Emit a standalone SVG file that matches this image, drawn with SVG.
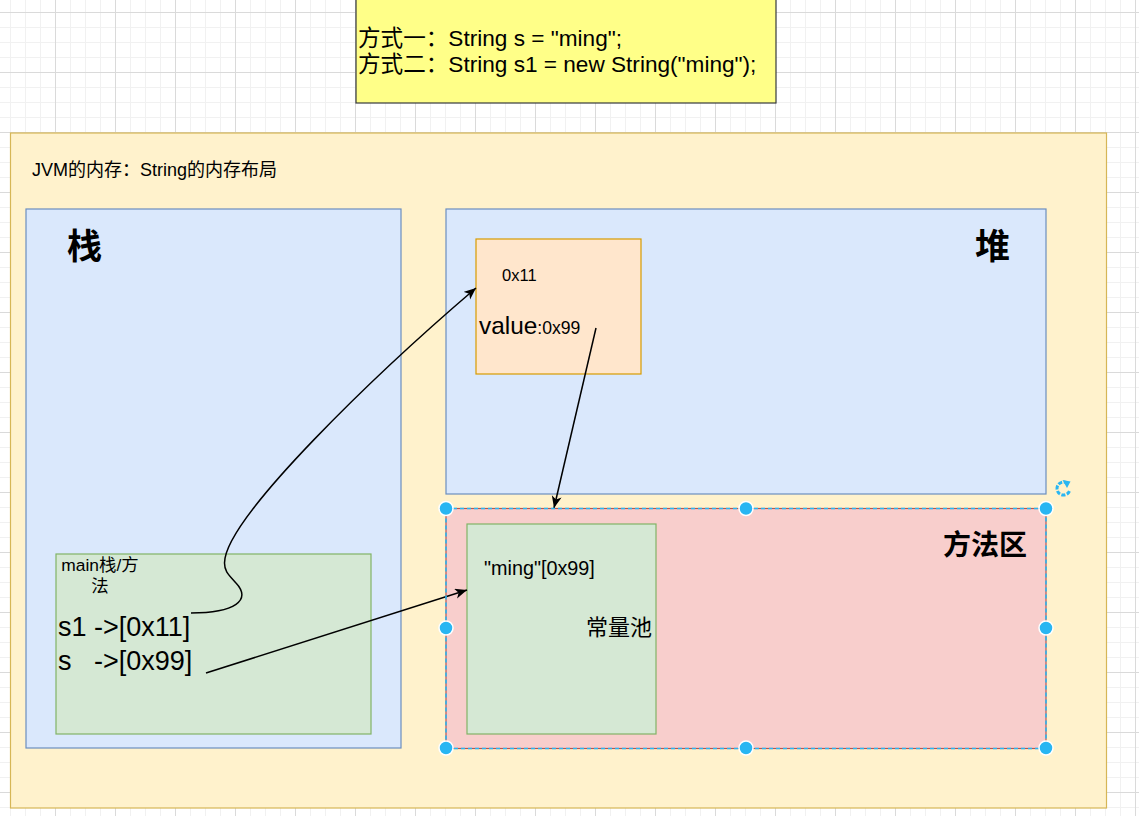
<svg xmlns="http://www.w3.org/2000/svg" width="1139" height="816" viewBox="0 0 1139 816">
<style>
text{font-family:"Liberation Sans","Noto Sans CJK SC",sans-serif;fill:#000}
.b{font-weight:bold}
.edge{fill:none;stroke:#000;stroke-width:1.5}
.handle{fill:#29b6f2;stroke:#fff;stroke-width:1.5}
</style>
<defs>
<pattern id="grid" patternUnits="userSpaceOnUse" x="-5" y="12" width="60" height="60">
<rect x="0" y="0" width="60" height="60" fill="#fff"/>
<rect x="15" y="0" width="1" height="60" fill="#f1f1f1"/>
<rect x="30" y="0" width="1" height="60" fill="#f1f1f1"/>
<rect x="45" y="0" width="1" height="60" fill="#f1f1f1"/>
<rect x="0" y="15" width="60" height="1" fill="#f1f1f1"/>
<rect x="0" y="30" width="60" height="1" fill="#f1f1f1"/>
<rect x="0" y="45" width="60" height="1" fill="#f1f1f1"/>
<rect x="0" y="0" width="1" height="60" fill="#dadada"/>
<rect x="0" y="0" width="60" height="1" fill="#dadada"/>
</pattern>
<marker id="arr" markerUnits="userSpaceOnUse" markerWidth="13" markerHeight="11" refX="12" refY="5" orient="auto" viewBox="0 0 13 11">
<path d="M0,0 L12,5 L0,10 L3.2,5 Z" fill="#000"/>
</marker>
</defs>
<rect width="1139" height="816" fill="url(#grid)"/>

<g id="note">
<rect x="356" y="-2" width="420" height="105" fill="#ffff88" stroke="#36393d" stroke-width="1.2"/>
<text x="358" y="45.5" font-size="22.6">方式一：String s = "ming";</text>
<text x="358" y="72" font-size="22.6">方式二：String s1 = new String("ming");</text>
</g>

<g id="jvm">
<rect x="10.5" y="133" width="1096" height="675" fill="#fff2cc" stroke="#d6b656" stroke-width="1.2"/>
<text x="32" y="176" font-size="18">JVM的内存：String的内存布局</text>
</g>

<g id="stack">
<rect x="26" y="209" width="375" height="539" fill="#dae8fc" stroke="#6c8ebf" stroke-width="1.2"/>
<text class="b" x="67" y="259" font-size="35">栈</text>
</g>

<g id="main-frame">
<rect x="56" y="554" width="315" height="180" fill="#d5e8d4" stroke="#82b366" stroke-width="1.2"/>
<text x="100" y="571" font-size="17.4" text-anchor="middle">main栈/方</text>
<text x="100" y="592" font-size="17.4" text-anchor="middle">法</text>
<text x="58" y="636" font-size="27">s1 -&gt;[0x11]</text>
<text x="58" y="670" font-size="27" xml:space="preserve">s   -&gt;[0x99]</text>
</g>

<g id="heap">
<rect x="446" y="209" width="600" height="285" fill="#dae8fc" stroke="#6c8ebf" stroke-width="1.2"/>
<text class="b" x="975" y="259" font-size="35">堆</text>
</g>

<g id="string-object">
<rect x="476" y="239" width="165" height="135" fill="#ffe6cc" stroke="#d79b00" stroke-width="1.2"/>
<text x="502" y="281" font-size="16.5">0x11</text>
<text x="479" y="334" font-size="24.4"><tspan>value</tspan><tspan font-size="17.6">:0x99</tspan></text>
</g>

<g id="method-area">
<rect x="446" y="508.5" width="600" height="240" fill="#f8cecc" stroke="#b85450" stroke-width="1.2"/>
<text class="b" x="943" y="555" font-size="28">方法区</text>
</g>

<g id="constant-pool">
<rect x="467" y="524" width="189" height="210" fill="#d5e8d4" stroke="#82b366" stroke-width="1.2"/>
<text x="484" y="575" font-size="19.8">"ming"[0x99]</text>
<text x="586" y="635" font-size="22">常量池</text>
</g>

<g id="connectors">
<path class="edge" marker-end="url(#arr)" d="M191,613 C 235,613 252,600 236,583 C 228,574 224.5,571 224.5,563 C 224.5,518 380,370 476,288"/>
<path class="edge" marker-end="url(#arr)" d="M596,328 L554,508"/>
<path class="edge" marker-end="url(#arr)" d="M206,673 L467,590"/>
</g>

<g id="selection">
<rect x="446" y="508.5" width="600" height="240" fill="none" stroke="#29b6f2" stroke-width="1.6" stroke-dasharray="4 3"/>
<circle class="handle" cx="446" cy="508.5" r="7"/>
<circle class="handle" cx="746" cy="508.5" r="7"/>
<circle class="handle" cx="1046" cy="508.5" r="7"/>
<circle class="handle" cx="446" cy="628" r="7"/>
<circle class="handle" cx="1046" cy="628" r="7"/>
<circle class="handle" cx="446" cy="748" r="7"/>
<circle class="handle" cx="746" cy="748" r="7"/>
<circle class="handle" cx="1046" cy="748" r="7"/>
<path d="M1067.5,483.5 A6.5,6.5 0 1 0 1069.8,490" fill="none" stroke="#29b6f2" stroke-width="3" stroke-dasharray="4 1.6"/>
<path d="M1062.5,480 L1070.5,481.5 L1067,488 Z" fill="#29b6f2"/>
</g>
</svg>
